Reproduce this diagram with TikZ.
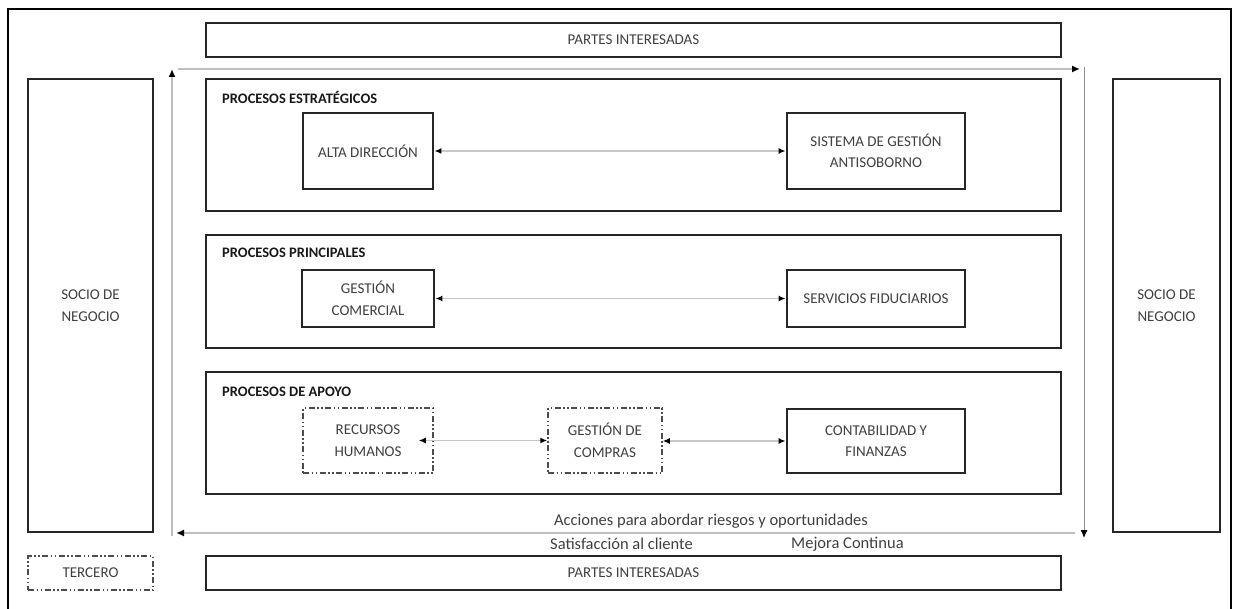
\documentclass[tikz,border=0pt]{standalone}
\usepackage{fontspec}
\setmainfont{Carlito}
\usetikzlibrary{arrows.meta}

\begin{document}
\begin{tikzpicture}[x=1pt,y=-1pt,
    box/.style={draw=black!85,line width=2.8pt,inner sep=0pt,align=center,text=black!75,font=\fontsize{15}{21.5}\selectfont},
    grupo/.style={draw=black!85,line width=2.8pt,minimum width=855pt},
    punteada/.style={box,draw=black!70,line width=1.5pt,dash pattern=on 6pt off 2.5pt on 1.5pt off 2.5pt on 1.5pt off 2.5pt},
    titulo/.style={anchor=west,inner sep=0pt,font=\bfseries\fontsize{14.5}{18}\selectfont,text=black!90},
    texto/.style={inner sep=0pt,text=black!75,font=\fontsize{16.5}{20}\selectfont},
    flecha/.style={draw=black!22,line width=1.8pt,arrows={Latex[color=black,length=7pt,width=6pt]-Latex[color=black,length=7pt,width=6pt]}},
    ciclo/.style={draw=black!25,line width=2.2pt,arrows={-Latex[color=black,length=8pt,width=7pt]}}]

            \useasboundingbox (0,0) rectangle (1233,609);

            % Frame (open at the bottom)
            \draw[line width=1.2pt] (8,609) -- (8,9) -- (1231,9) -- (1231,609);

            % Stakeholders, top and bottom
            \node[box,minimum width=855pt,minimum height=34pt] (parTop) at (633.5,40) {PARTES INTERESADAS};
            \node[box,minimum width=855pt,minimum height=34pt] (parBot) at (633.5,573) {PARTES INTERESADAS};

            % Business partners and third party
            \node[box,minimum width=125pt,minimum height=453pt] (socioIzq) at (90.5,305.5) {SOCIO DE\\NEGOCIO};
            \node[box,minimum width=107pt,minimum height=453pt] (socioDer) at (1166.5,305.5) {SOCIO DE\\NEGOCIO};
            \node[punteada,minimum width=125pt,minimum height=34pt] (tercero) at (90.5,573) {TERCERO};

            % Process groups
            \node[grupo,minimum height=132pt] (estrat) at (633.5,145) {};
            \node[grupo,minimum height=113pt] (princ) at (633.5,291.5) {};
            \node[grupo,minimum height=122pt] (apoyo) at (633.5,433) {};
            \node[titulo] (tEstrat) at (222,97) {PROCESOS ESTRATÉGICOS};
            \node[titulo] (tPrinc) at (222,253) {PROCESOS PRINCIPALES};
            \node[titulo] (tApoyo) at (222,392) {PROCESOS DE APOYO};

            % Processes
            \node[box,minimum width=130pt,minimum height=76pt] (alta) at (368,151) {ALTA DIRECCIÓN};
            \node[box,minimum width=178pt,minimum height=76pt] (sgab) at (876,151) {SISTEMA DE GESTIÓN\\ANTISOBORNO};
            \node[box,minimum width=132pt,minimum height=57pt] (comercial) at (368,298.5) {GESTIÓN\\COMERCIAL};
            \node[box,minimum width=178pt,minimum height=57pt] (fiducia) at (876,298.5) {SERVICIOS FIDUCIARIOS};
            \node[punteada,minimum width=130pt,minimum height=65pt] (rrhh) at (368,440.5) {RECURSOS\\HUMANOS};
            \node[punteada,minimum width=114pt,minimum height=65pt] (compras) at (605,440.5) {GESTIÓN DE\\COMPRAS};
            \node[box,minimum width=178pt,minimum height=64pt] (contab) at (876,441) {CONTABILIDAD Y\\FINANZAS};

            \draw[flecha] (alta) -- (sgab);
            \draw[flecha] (comercial) -- (fiducia);
            \draw[flecha] ([xshift=-15pt]rrhh.east) -- (compras.west);
            \draw[flecha] (compras.east |- contab.west) -- (contab.west);

            % Improvement loop
            \coordinate (c1) at (178,69);
            \coordinate (c2) at (1080,69);
            \coordinate (c3) at (1084,67);
            \coordinate (c4) at (1084,538);
            \coordinate (c5) at (1075,533);
            \coordinate (c6) at (176,533);
            \coordinate (c7) at (172,536);
            \coordinate (c8) at (172,69);
            \draw[ciclo] (c1) -- (c2);
            \draw[ciclo,draw=black!45,line width=1pt] (c3) -- (c4);
            \draw[ciclo] (c5) -- (c6);
            \draw[ciclo] (c7) -- (c8);

            \node[texto] (acciones) at (711,521) {Acciones para abordar riesgos y oportunidades};
            \node[texto,anchor=west] (satisf) at (550,544) {Satisfacción al cliente};
            \node[texto,anchor=west] (mejora) at (791,544) {Mejora Continua};

        \end{tikzpicture}
\end{document}
